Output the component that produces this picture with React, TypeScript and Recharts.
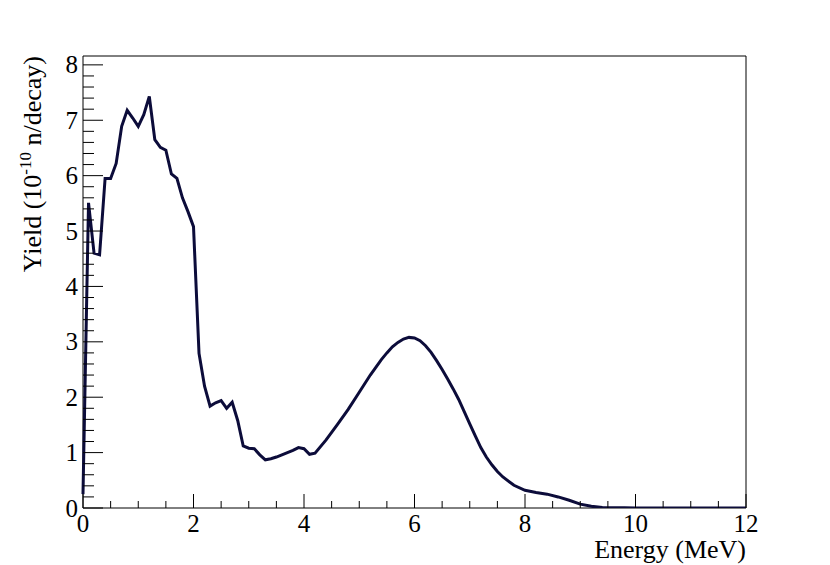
import { Label, Line, LineChart, ReferenceArea, XAxis, YAxis } from 'recharts'

// neutron yield spectrum
const energy = [
  0, 0.1, 0.2, 0.3, 0.4, 0.5, 0.6, 0.7, 0.8, 0.9,
  1.0, 1.1, 1.2, 1.3, 1.4, 1.5, 1.6, 1.7, 1.8, 1.9,
  2.0, 2.1, 2.2, 2.3, 2.4, 2.5, 2.6, 2.7, 2.8, 2.9,
  3.0, 3.1, 3.2, 3.3, 3.4, 3.5, 3.6, 3.7, 3.8, 3.9,
  4.0, 4.1, 4.2, 4.4, 4.6, 4.8, 5.0, 5.2, 5.4, 5.5,
  5.6, 5.7, 5.8, 5.9, 6.0, 6.1, 6.2, 6.3, 6.4, 6.5,
  6.6, 6.7, 6.8, 6.9, 7.0, 7.1, 7.2, 7.3, 7.4, 7.5,
  7.6, 7.8, 8.0, 8.2, 8.4, 8.6, 8.8, 9.0, 9.2, 9.4,
  9.6, 9.8, 10.0, 10.5, 11.0, 11.5, 12.0,
]
const yieldValues = [
  0.25, 5.51, 4.6, 4.57, 5.95, 5.95, 6.22, 6.89, 7.18, 7.04,
  6.89, 7.1, 7.43, 6.65, 6.51, 6.46, 6.03, 5.95, 5.6, 5.35,
  5.08, 2.79, 2.2, 1.84, 1.9, 1.94, 1.8, 1.91, 1.58, 1.12,
  1.08, 1.07, 0.96, 0.87, 0.89, 0.92, 0.96, 1.0, 1.04, 1.09,
  1.07, 0.97, 0.99, 1.23, 1.5, 1.78, 2.09, 2.4, 2.68, 2.8,
  2.91, 2.99, 3.05, 3.08, 3.07, 3.02, 2.93, 2.81, 2.66, 2.5,
  2.33, 2.15, 1.96, 1.74, 1.52, 1.3, 1.09, 0.92, 0.78, 0.66,
  0.56, 0.41, 0.32, 0.28, 0.25, 0.2, 0.14, 0.07, 0.03, 0.01,
  0.005, 0.003, 0.002, 0.002, 0.002, 0.002, 0.002,
]

const xMajorTicks = [0, 2, 4, 6, 8, 10, 12]
const yMajorTicks = [0, 1, 2, 3, 4, 5, 6, 7, 8]
const X_MAX = 12
const Y_MAX = 8.16

const xTicks: number[] = []
for (let i = 0; i <= 24; i++) xTicks.push(i * 0.5)
const yTicks: number[] = []
for (let i = 0; i <= 40; i++) yTicks.push(Math.round(i * 2) / 10)

const data = energy.map((e, i) => ({ energy: e, value: yieldValues[i] }))

const FONT = '"Liberation Serif", "Times New Roman", serif'
const LINE_COLOR = '#0c0c3a'

function YTick(props: any) {
  const { x, y, payload } = props
  const major = yMajorTicks.includes(payload.value)
  return (
    <g>
      <line x1={x} x2={x + (major ? 20 : 11)} y1={y} y2={y} stroke="#000" />
      {major && (
        <text
          x={x - 5}
          y={y}
          textAnchor="end"
          dominantBaseline="central"
          fontFamily={FONT}
          fontSize={25}
          fill="#000"
        >
          {payload.value}
        </text>
      )}
    </g>
  )
}

function XTick(props: any) {
  const { x, y, payload } = props
  const major = xMajorTicks.includes(payload.value)
  return (
    <g>
      <line x1={x} x2={x} y1={y} y2={y - (major ? 14 : 7)} stroke="#000" />
      {major && (
        <text
          x={x}
          y={y + 15}
          textAnchor="middle"
          dominantBaseline="central"
          fontFamily={FONT}
          fontSize={25}
          fill="#000"
        >
          {payload.value}
        </text>
      )}
    </g>
  )
}

function YTitle(props: any) {
  const vb = props.viewBox
  const x = vb.x + 41
  const y = vb.y
  return (
    <text
      x={x}
      y={y}
      transform={`rotate(-90, ${x}, ${y})`}
      textAnchor="end"
      fontFamily={FONT}
      fontSize={26}
      fill="#000"
    >
      Yield (10
      <tspan dy={-10} fontSize={17}>-10</tspan>
      <tspan dy={10}> n/decay)</tspan>
    </text>
  )
}

function XTitle(props: any) {
  const vb = props.viewBox
  return (
    <text
      x={vb.x + vb.width}
      y={vb.y + 50}
      textAnchor="end"
      fontFamily={FONT}
      fontSize={26}
      fill="#000"
    >
      Energy (MeV)
    </text>
  )
}

export default function App() {
  return (
    <div style={{ position: 'absolute', left: 0, top: 0, width: 830, height: 565, background: '#fff' }}>
      <LineChart
        width={830}
        height={565}
        data={data}
        margin={{ top: 56, right: 84, bottom: 0, left: 0 }}
      >
        <XAxis
          type="number"
          dataKey="energy"
          domain={[0, X_MAX]}
          ticks={xTicks}
          interval={0}
          height={57}
          tickSize={0}
          tickMargin={0}
          axisLine={false}
          tick={<XTick />}
        >
          <Label content={<XTitle />} />
        </XAxis>
        <YAxis
          type="number"
          domain={[0, Y_MAX]}
          allowDataOverflow
          ticks={yTicks}
          interval={0}
          width={83}
          tickSize={0}
          tickMargin={0}
          axisLine={false}
          tick={<YTick />}
        >
          <Label content={<YTitle />} />
        </YAxis>
        <ReferenceArea
          x1={0}
          x2={X_MAX}
          y1={0}
          y2={Y_MAX}
          fill="none"
          stroke="#000"
          strokeWidth={1}
          ifOverflow="visible"
        />
        <Line
          type="linear"
          dataKey="value"
          stroke={LINE_COLOR}
          strokeWidth={3}
          dot={false}
          activeDot={false}
          isAnimationActive={false}
        />
      </LineChart>
    </div>
  )
}
